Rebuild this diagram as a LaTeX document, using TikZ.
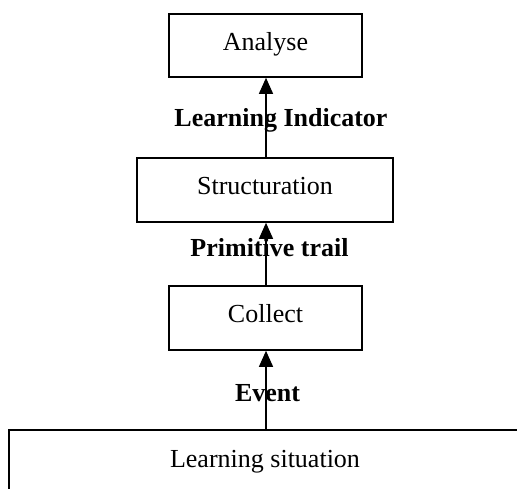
\documentclass[tikz,border=0pt]{standalone}
\usepackage{fontspec}
\setmainfont{Liberation Serif}
\usetikzlibrary{arrows.meta}
\begin{document}
\begin{tikzpicture}[x=1pt,y=-1pt,
  box/.style={draw=black, line width=1.6pt, inner sep=0pt, text height=17pt, text depth=7pt,
    font=\fontsize{26}{30}\selectfont},
  lbl/.style={inner sep=0pt, anchor=base, font=\fontsize{26}{30}\selectfont\bfseries},
  flow/.style={line width=1.3pt, -{Triangle[width=14pt,length=16pt]}}]
\path[use as bounding box, clip] (0,0) rectangle (517,489);
\node[box, minimum width=193pt, minimum height=63pt] (analyse) at (265.5,45.5) {Analyse};
\node[box, minimum width=256pt, minimum height=64pt] (struct) at (265,190) {Structuration};
\node[box, minimum width=193pt, minimum height=64pt] (collect) at (265.5,318) {Collect};
\node[box, minimum width=512pt, minimum height=64pt] (situation) at (265,462) {Learning situation};
\node[lbl] (li) at (281,127) {Learning Indicator};
\node[lbl] (pt) at (269.5,257) {Primitive trail};
\node[lbl] (ev) at (267.5,401) {Event};
\draw[flow] (situation.north -| 266,0) -- (collect.south -| 266,0);
\draw[flow] (collect.north -| 266,0) -- (struct.south -| 266,0);
\draw[flow] (struct.north -| 266,0) -- (analyse.south -| 266,0);
\end{tikzpicture}
\end{document}
